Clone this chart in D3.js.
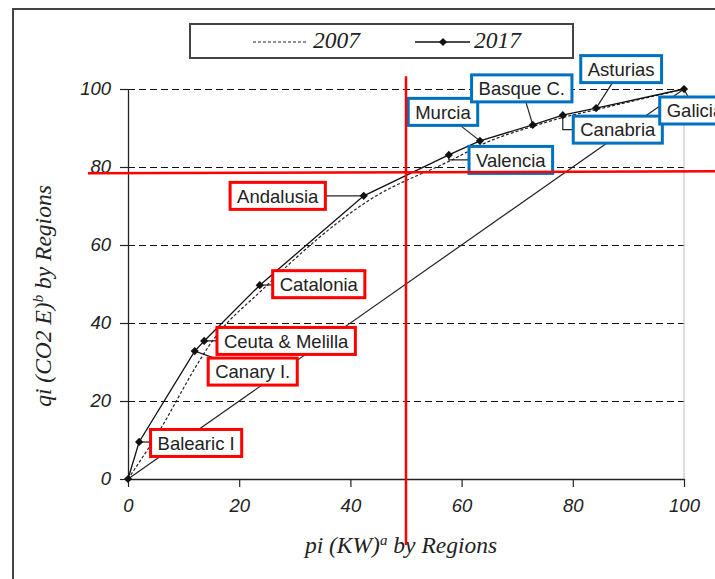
<!DOCTYPE html>
<html>
<head>
<meta charset="utf-8">
<script src="https://cdn.jsdelivr.net/npm/d3@7"></script>
<style>
  body { margin: 0; background: #fff; }
  .tick text { font-family: "Liberation Sans", Arial, sans-serif; font-style: italic; font-size: 18.5px; fill: #222; }
  .axis-title { font-family: "Liberation Serif", "Times New Roman", serif; font-style: italic; font-size: 23.5px; fill: #222; }
  .lbl { font-family: "Liberation Sans", Arial, sans-serif; font-size: 18.5px; fill: #222; }
</style>
</head>
<body>
<div id="chart"></div>
<script>
// regions in order along the 2017 curve (first point is the origin)
var regions = ["", "Balearic I", "Canary I.", "Ceuta & Melilla", "Catalonia", "Andalusia",
               "Valencia", "Murcia", "Basque C.", "Canabria", "Asturias", "Galicia"];
var px2017 = [0, 2.0, 12.0, 13.7, 23.7, 42.4, 57.7, 63.3, 72.8, 78.2, 84.2, 100];
var qy2017 = [0, 9.5, 32.8, 35.4, 49.7, 72.6, 83.1, 86.7, 90.8, 93.3, 95.1, 100];

var px2007 = [0, 5.5, 12.5, 14.5, 24.5, 43.5, 58.5, 64, 73, 78.5, 84.5, 100];
var qy2007 = [0, 12, 29.5, 34, 49, 71.6, 82, 86, 90.5, 92.8, 94.8, 100];

var xTicks = [0, 20, 40, 60, 80, 100];
var yTicks = [0, 20, 40, 60, 80, 100];

var equality = [0, 100];
var cutoffX = 50;
var cutoffY = 78.6;

// where each label box sits, relative to its point (pixels)
var labelPos = {
  "Balearic I":      {dx: 57,  dy: 1},
  "Canary I.":       {dx: 58,  dy: 20.5},
  "Ceuta & Melilla": {dx: 82,  dy: 0},
  "Catalonia":       {dx: 59,  dy: -1},
  "Andalusia":       {dx: -86, dy: 0},
  "Valencia":        {dx: 62,  dy: 5, elbow: true},
  "Murcia":          {dx: -37, dy: -29},
  "Basque C.":       {dx: -11, dy: -36.5},
  "Canabria":        {dx: 55,  dy: 14.5, elbow: true},
  "Asturias":        {dx: 25,  dy: -39},
  "Galicia":         {dx: 11,  dy: 21.5}
};

var width = 715, height = 579;

var svg = d3.select("#chart").append("svg")
    .attr("width", width)
    .attr("height", height);

var x = d3.scaleLinear().domain([0, 100]).range([128, 684]);
var y = d3.scaleLinear().domain([0, 100]).range([479, 89]);

// frame round the figure
svg.append("path")
    .attr("d", "M13," + height + "V9H" + width)
    .attr("fill", "none")
    .attr("stroke", "#444")
    .attr("stroke-width", 2);

// grid
svg.append("g").selectAll("line")
    .data(yTicks.filter(function (d) { return d > 0; }))
    .enter().append("line")
    .attr("x1", x(0)).attr("x2", x(100))
    .attr("y1", function (d) { return y(d) + 0.5; })
    .attr("y2", function (d) { return y(d) + 0.5; })
    .attr("stroke", "#111")
    .attr("shape-rendering", "crispEdges")
    .attr("stroke-dasharray", "7,4");

svg.append("line")
    .attr("x1", x(100)).attr("x2", x(100))
    .attr("y1", y(0)).attr("y2", y(100))
    .attr("stroke", "#bbb");

// axes
var gx = svg.append("g")
    .attr("transform", "translate(0," + y(0) + ")")
    .call(d3.axisBottom(x).tickValues(xTicks).tickSize(8).tickSizeOuter(0).tickPadding(12));
var gy = svg.append("g")
    .attr("transform", "translate(" + x(0) + ",0)")
    .call(d3.axisLeft(y).tickValues(yTicks).tickSize(8).tickSizeOuter(0).tickPadding(9));
[gx, gy].forEach(function (g) {
  g.select(".domain").attr("stroke", "#222").attr("stroke-width", 1.3);
  g.selectAll(".tick line").attr("stroke", "#222").attr("stroke-width", 1.2);
});

// axis titles
var xt = svg.append("text").attr("class", "axis-title")
    .attr("x", 401).attr("y", 553).attr("text-anchor", "middle");
xt.append("tspan").text("pi (KW)");
xt.append("tspan").attr("dy", -8).attr("font-size", 15).text("a");
xt.append("tspan").attr("dy", 8).text(" by Regions");

var yt = svg.append("text").attr("class", "axis-title")
    .attr("transform", "translate(51,296) rotate(-90)")
    .attr("text-anchor", "middle");
yt.append("tspan").text("qi (CO2 E)");
yt.append("tspan").attr("dy", -8).attr("font-size", 15).text("b");
yt.append("tspan").attr("dy", 8).text(" by Regions");

// series
var d2017 = px2017.map(function (v, i) { return {p: v, q: qy2017[i], name: regions[i]}; });
var d2007 = px2007.map(function (v, i) { return {p: v, q: qy2007[i]}; });

var line = d3.line()
    .x(function (d) { return x(d.p); })
    .y(function (d) { return y(d.q); });

svg.append("path")
    .datum(equality.map(function (v) { return {p: v, q: v}; }))
    .attr("d", line)
    .attr("fill", "none").attr("stroke", "#222").attr("stroke-width", 1.2);

svg.append("path")
    .datum(d2007)
    .attr("d", line.curve(d3.curveMonotoneX))
    .attr("fill", "none").attr("stroke", "#222").attr("stroke-width", 1.2)
    .attr("stroke-dasharray", "3,2");
line.curve(d3.curveLinear);

svg.append("path")
    .datum(d2017)
    .attr("d", line)
    .attr("fill", "none").attr("stroke", "#111").attr("stroke-width", 1.3);

var diamond = d3.symbol().type(d3.symbolSquare).size(34);

// labels with leaders
var lg = svg.append("g");
d2017.filter(function (d) { return d.name; }).forEach(function (d) {
  var pos = labelPos[d.name];
  var colour = d.p < cutoffX ? "#ff0000" : "#0070c0";
  var cx = x(d.p) + pos.dx, cy = y(d.q) + pos.dy;
  var g = lg.append("g");
  var leader = g.append("path")
      .attr("fill", "none").attr("stroke", "#222").attr("stroke-width", 1.2);
  var rect = g.append("rect");
  var t = g.append("text").attr("class", "lbl")
      .attr("x", cx).attr("y", cy).attr("dy", "0.36em")
      .attr("text-anchor", "middle")
      .text(d.name);
  var w = t.node().getComputedTextLength() + 14, h = 27;
  rect.attr("x", cx - w / 2).attr("y", cy - h / 2)
      .attr("width", w).attr("height", h)
      .attr("fill", "#fff").attr("stroke", colour).attr("stroke-width", 3);
  if (pos.elbow) {
    leader.attr("d", "M" + x(d.p) + "," + y(d.q) + "V" + cy + "H" + cx);
  } else {
    leader.attr("d", "M" + x(d.p) + "," + y(d.q) + "L" + cx + "," + cy);
  }
});

// markers on top of leaders
svg.append("g").selectAll("path")
    .data(d2017)
    .enter().append("path")
    .attr("d", diamond)
    .attr("transform", function (d) { return "translate(" + x(d.p) + "," + y(d.q) + ") rotate(45)"; })
    .attr("fill", "#111");

// red cut-off lines
svg.append("line")
    .attr("x1", x(cutoffX)).attr("x2", x(cutoffX))
    .attr("y1", y(103.3)).attr("y2", y(-16.9))
    .attr("stroke", "#ff0000").attr("stroke-width", 2.5);
svg.append("line")
    .attr("x1", x(-7.2)).attr("x2", x(106))
    .attr("y1", y(cutoffY - 0.2)).attr("y2", y(cutoffY + 0.3))
    .attr("stroke", "#ff0000").attr("stroke-width", 2.5);

// legend
var leg = svg.append("g");
leg.append("rect")
    .attr("x", 190).attr("y", 24).attr("width", 383).attr("height", 34)
    .attr("fill", "#fff").attr("stroke", "#444").attr("stroke-width", 2);
leg.append("line")
    .attr("x1", 253).attr("x2", 308).attr("y1", 42).attr("y2", 42)
    .attr("stroke", "#222").attr("stroke-width", 1.2).attr("stroke-dasharray", "3,2");
leg.append("text").attr("class", "axis-title").attr("font-size", 19)
    .attr("x", 313).attr("y", 48).text("2007");
leg.append("line")
    .attr("x1", 415).attr("x2", 470).attr("y1", 42).attr("y2", 42)
    .attr("stroke", "#111").attr("stroke-width", 1.3);
leg.append("path")
    .attr("d", diamond)
    .attr("transform", "translate(443,42) rotate(45)")
    .attr("fill", "#111");
leg.append("text").attr("class", "axis-title").attr("font-size", 19)
    .attr("x", 474).attr("y", 48).text("2017");
</script>
</body>
</html>
